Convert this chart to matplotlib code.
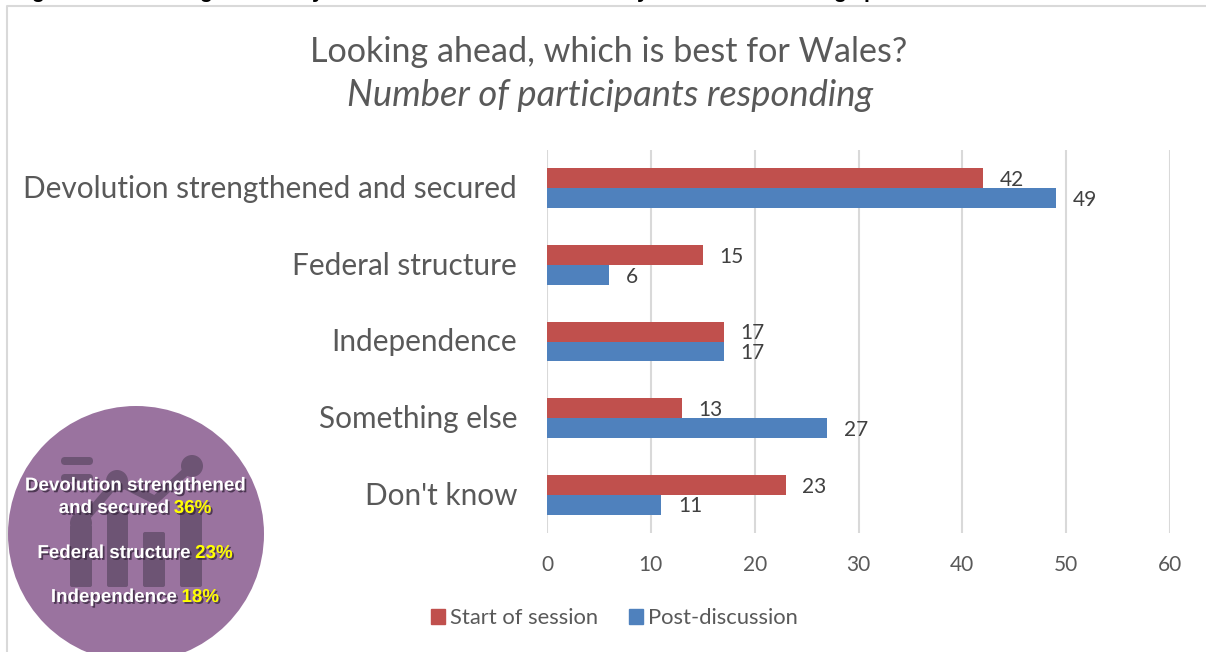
import matplotlib.pyplot as plt
import matplotlib.patheffects as pe
from matplotlib.patches import Circle, FancyBboxPatch, Patch
from matplotlib.transforms import ScaledTranslation

categories = ["Devolution strengthened and secured", "Federal structure", "Independence", "Something else", "Don't know"]
start_session = [42, 15, 17, 13, 23]
post_discussion = [49, 6, 17, 27, 11]
x_ticks = [0, 10, 20, 30, 40, 50, 60]

RED = "#c0504d"
BLUE = "#4f81bd"
GRID = "#d9d9d9"
W, H = 1206, 652

plt.rcParams["font.family"] = ["Lato", "DejaVu Sans"]

fig = plt.figure(figsize=(W / 100, H / 100), dpi=100)

# pixel-coordinate layer for the frame and the badge
bg = fig.add_axes([0, 0, 1, 1])
bg.set_xlim(0, W)
bg.set_ylim(H, 0)
bg.axis("off")
bg.plot([7, 7, W], [H, 5.5, 5.5], color=GRID, lw=1.5)

# caption line above the frame, cut off by the page edge
for px, ch in zip([37, 205, 318, 643, 839, 870], "ggyygp"):
    bg.text(px, -2, ch, fontsize=15, fontweight="bold", color="black",
            family="Liberation Sans", ha="center", va="baseline", clip_on=True)

ax = fig.add_axes([547 / W, (H - 533) / H, 623 / W, 383 / H])
y = list(range(len(categories)))
h = 0.26
ax.barh([i - h / 2 for i in y], start_session, height=h, color=RED, zorder=3, label="Start of session")
ax.barh([i + h / 2 for i in y], post_discussion, height=h, color=BLUE, zorder=3, label="Post-discussion")

for i in y:
    ax.annotate(str(start_session[i]), (start_session[i], i - h / 2), xytext=(12, -1.3),
                textcoords="offset points", va="center", ha="left", fontsize=15, color="#404040", zorder=4)
    ax.annotate(str(post_discussion[i]), (post_discussion[i], i + h / 2), xytext=(12, -1.3),
                textcoords="offset points", va="center", ha="left", fontsize=15, color="#404040", zorder=4)

ax.set_xlim(0, 60)
ax.set_ylim(4.5, -0.5)
ax.set_xticks(x_ticks)
ax.set_yticks(y)
ax.set_yticklabels(categories, fontsize=21.4, color="#595959")
ax.tick_params(axis="both", length=0)
ax.tick_params(axis="x", labelsize=15, labelcolor="#595959", pad=15.8)
ax.tick_params(axis="y", pad=21.5)
ax.grid(axis="x", color=GRID, lw=1.5, zorder=0)
ax.set_axisbelow(True)
for s in ax.spines.values():
    s.set_visible(False)

# nudge the category labels up a touch
nudge = ScaledTranslation(0, 1.5 / 100, fig.dpi_scale_trans)
for lab in ax.get_yticklabels():
    lab.set_transform(lab.get_transform() + nudge)

fig.text(609 / W, 1 - 52 / H, "Looking ahead, which is best for Wales?", fontsize=24.6, color="#595959",
         ha="center", va="center")
fig.text(610 / W, 1 - 96 / H, "Number of participants responding", fontsize=26.2, color="#595959",
         style="italic", ha="center", va="center")

handles = [Patch(color=RED), Patch(color=BLUE)]
fig.legend(handles, ["Start of session", "Post-discussion"], ncol=2, frameon=False, fontsize=15.8,
           labelcolor="#595959", loc="center", bbox_to_anchor=(614.5 / W, 1 - 618 / H),
           handlelength=0.64, handleheight=0.64, handletextpad=0.23, columnspacing=1.4)

# purple badge with the dark chart icon behind the text
badge = fig.add_axes([0, 0, 1, 1], facecolor="none")
badge.set_xlim(0, W)
badge.set_ylim(H, 0)
badge.axis("off")
badge.add_patch(Circle((136, 534), 128, color="#9a739f", lw=0))

ICON = "#6d5474"
for left, right, top in [(70, 92, 525), (107, 128, 510), (143, 165, 532), (180, 202, 507)]:
    badge.add_patch(FancyBboxPatch((left + 2, top + 2), right - left - 4, 587 - top - 4,
                                   boxstyle="round,pad=2", color=ICON, lw=0))
for top in [457, 474]:
    badge.add_patch(FancyBboxPatch((63, top + 2), 28, 4, boxstyle="round,pad=2,rounding_size=4", color=ICON, lw=0))
line_x = [81, 117, 155, 192]
line_y = [523, 481, 500, 466]
badge.plot(line_x, line_y, color=ICON, lw=6)
for px, py in zip([81, 117, 192], [523, 481, 466]):
    badge.add_patch(Circle((px, py), 11, color=ICON, lw=0))

shadow = [pe.withSimplePatchShadow(offset=(1.3, -1.3), shadow_rgbFace="#33233a", alpha=0.75)]
FS = 13.5


def badge_line(cx, py, label, pct):
    # white label followed by a yellow percentage, centred as one line
    t1 = badge.text(0, py, label + " ", fontsize=FS, fontweight="bold", family="Liberation Sans",
                    color="white", va="center", ha="left", path_effects=shadow)
    t2 = badge.text(0, py, pct, fontsize=FS, fontweight="bold", family="Liberation Sans",
                    color="#ffff00", va="center", ha="left", path_effects=shadow)
    fig.canvas.draw()
    w1 = t1.get_window_extent().width
    w2 = t2.get_window_extent().width
    t1.set_x(cx - (w1 + w2) / 2)
    t2.set_x(cx - (w1 + w2) / 2 + w1)


badge.text(135, 486, "Devolution strengthened", fontsize=FS, fontweight="bold", family="Liberation Sans",
           color="white", ha="center", va="center", path_effects=shadow)
badge_line(135, 508.5, "and secured", "36%")
badge_line(135, 553.5, "Federal structure", "23%")
badge_line(135, 597.5, "Independence", "18%")

fig.savefig("out.png", dpi=100)
